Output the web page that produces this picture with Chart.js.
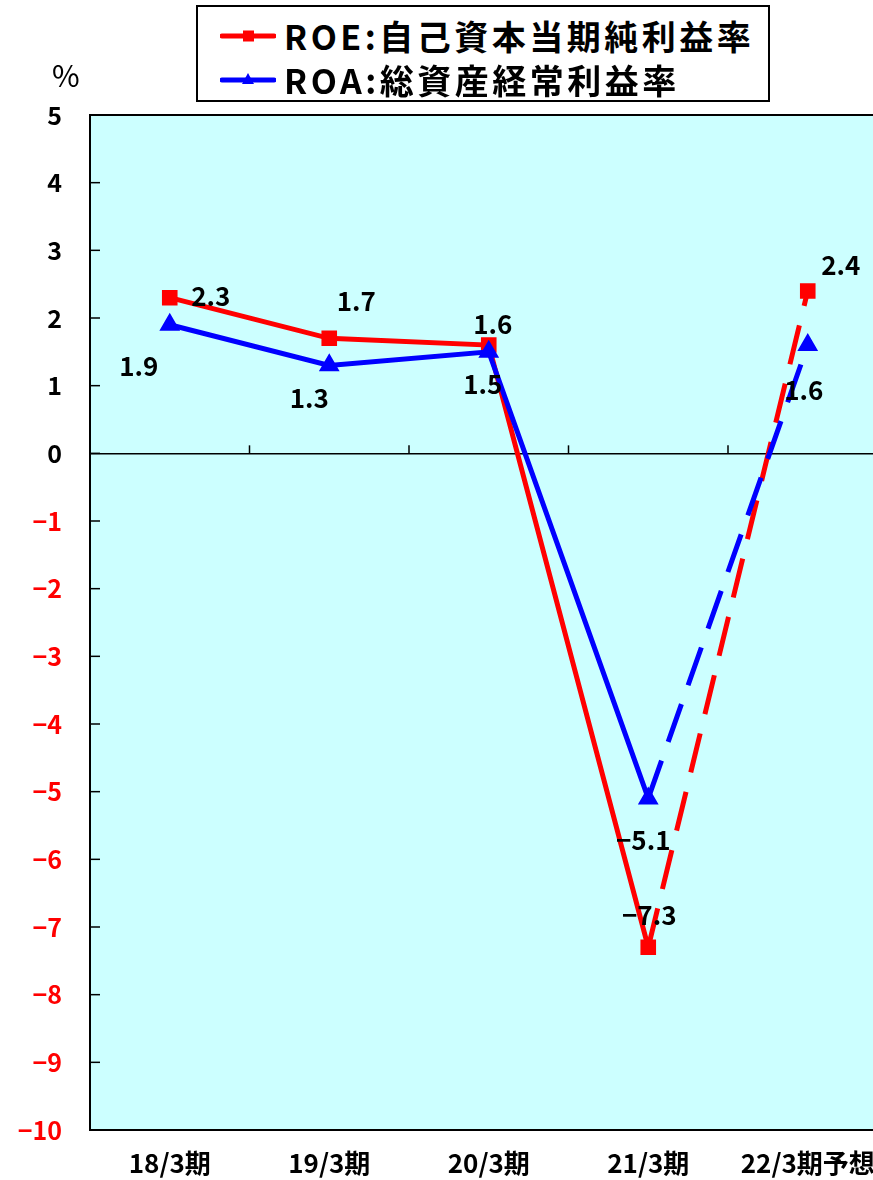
<!DOCTYPE html>
<html>
<head>
<meta charset="utf-8">
<script src="https://cdn.jsdelivr.net/npm/chart.js@4"></script>
<style>
  body { margin: 0; overflow: hidden; background: #fff; font-family: "Noto Sans CJK JP", sans-serif; }
  .wrap { position: relative; width: 900px; height: 1180px; }
  .unit { position: absolute; left: 52px; top: 52px; font-size: 30px; }
  .legend { position: absolute; left: 196px; top: 5px; width: 570px; height: 93px; border: 2px solid #000; background: #fff; }
  .legend .row { position: absolute; left: 22px; display: flex; align-items: center; font-size: 34px; font-weight: bold; letter-spacing: 3.5px; line-height: 1; }
  .legend svg { margin-right: 8px; }
</style>
</head>
<body>
<div class="wrap">
  <canvas id="chart" width="900" height="1180"></canvas>
  <div class="unit">%</div>
  <div class="legend">
    <div class="row" style="top:12px">
      <svg width="56" height="20"><line x1="2" y1="10" x2="54" y2="10" stroke="#ff0000" stroke-width="5" stroke-linecap="round"/><rect x="23" y="4.5" width="11" height="11" fill="#ff0000"/></svg>
      <span>ROE:自己資本当期純利益率</span>
    </div>
    <div class="row" style="top:56px">
      <svg width="56" height="20"><line x1="2" y1="10" x2="54" y2="10" stroke="#0000ff" stroke-width="5" stroke-linecap="round"/><polygon points="28,3 34,14 22,14" fill="#0000ff"/></svg>
      <span>ROA:総資産経常利益率</span>
    </div>
  </div>
</div>
<script>
const categories = ['18/3期', '19/3期', '20/3期', '21/3期', '22/3期予想'];
const roeValues = [2.3, 1.7, 1.6, -7.3, 2.4];
const roaValues = [1.9, 1.3, 1.5, -5.1, 1.6];
const yMin = -10;
const yMax = 5;

// where each value label sits relative to its point (px)
const roeLabelOffsets = [[41, -2], [27, -37], [4, -21], [1, -32], [33, -26]];
const roaLabelOffsets = [[-31, 41], [-20, 33], [-6, 32], [-5, 42], [-4, 45]];

const FONT = '"Noto Sans CJK JP", sans-serif';
const forecastDash = ctx => ctx.p0DataIndex === 3 ? [40, 20] : undefined;

function fmt(v) {
  return v < 0 ? '−' + Math.abs(v) : String(v);
}

const plotFrame = {
  id: 'plotFrame',
  beforeDraw(chart) {
    const { ctx, chartArea: a } = chart;
    ctx.save();
    ctx.fillStyle = '#ccffff';
    ctx.fillRect(a.left, a.top, a.right - a.left, a.bottom - a.top);
    ctx.restore();
  },
  beforeDatasetsDraw(chart) {
    const { ctx, chartArea: a, scales } = chart;
    const y = scales.y, x = scales.x;
    ctx.save();
    ctx.strokeStyle = '#000';
    ctx.lineWidth = 2;
    ctx.strokeRect(a.left, a.top, a.right - a.left, a.bottom - a.top);
    // inward ticks on the value axis
    ctx.lineWidth = 1.5;
    for (let v = yMin; v <= yMax; v++) {
      const py = y.getPixelForValue(v);
      ctx.beginPath();
      ctx.moveTo(a.left, py);
      ctx.lineTo(a.left + 10, py);
      ctx.stroke();
    }
    // category ticks on the zero line
    const y0 = y.getPixelForValue(0);
    for (let i = 0; i < categories.length - 1; i++) {
      const px = (x.getPixelForValue(i) + x.getPixelForValue(i + 1)) / 2;
      ctx.beginPath();
      ctx.moveTo(px, y0);
      ctx.lineTo(px, y0 - 8);
      ctx.stroke();
    }
    ctx.restore();
  },
  afterDatasetsDraw(chart) {
    const { ctx } = chart;
    const offsets = [roeLabelOffsets, roaLabelOffsets];
    ctx.save();
    ctx.fillStyle = '#000';
    ctx.font = 'bold 26px ' + FONT;
    ctx.textAlign = 'center';
    ctx.textBaseline = 'middle';
    chart.data.datasets.forEach((ds, di) => {
      const meta = chart.getDatasetMeta(di);
      meta.data.forEach((pt, i) => {
        const [dx, dy] = offsets[di][i];
        ctx.fillText(fmt(ds.data[i]), pt.x + dx, pt.y + dy);
      });
    });
    ctx.restore();
  }
};

new Chart(document.getElementById('chart'), {
  type: 'line',
  data: {
    labels: categories,
    datasets: [
      {
        label: 'ROE:自己資本当期純利益率',
        data: roeValues,
        borderColor: '#ff0000',
        backgroundColor: '#ff0000',
        borderWidth: 5,
        pointStyle: 'rect',
        pointRadius: 7.5,
        pointHoverRadius: 7.5,
        order: 1,
        segment: { borderDash: forecastDash }
      },
      {
        label: 'ROA:総資産経常利益率',
        data: roaValues,
        borderColor: '#0000ff',
        backgroundColor: '#0000ff',
        borderWidth: 5,
        pointStyle: 'triangle',
        pointRadius: 7,
        pointHoverRadius: 7,
        order: 0,
        segment: { borderDash: forecastDash }
      }
    ]
  },
  options: {
    responsive: false,
    animation: false,
    layout: { padding: { top: 115, right: 5, left: 0, bottom: 0 } },
    plugins: { legend: { display: false }, tooltip: { enabled: false } },
    scales: {
      x: {
        offset: true,
        grid: { display: false },
        border: { display: false },
        ticks: {
          color: '#000',
          font: { family: FONT, size: 26, weight: 'bold' },
          padding: 10,
          maxRotation: 0,
          autoSkip: false
        },
        afterFit(scale) { scale.height = 50; }
      },
      y: {
        min: yMin,
        max: yMax,
        grid: {
          drawTicks: false,
          color: ctx => ctx.tick && ctx.tick.value === 0 ? '#000' : 'rgba(0,0,0,0)',
          lineWidth: 1.5
        },
        border: { display: false },
        ticks: {
          stepSize: 1,
          padding: 28,
          color: ctx => ctx.tick.value < 0 ? '#ff0000' : '#000',
          font: { family: FONT, size: 25, weight: 'bold' },
          callback: v => fmt(v)
        },
        afterFit(scale) { scale.width = 90; }
      }
    }
  },
  plugins: [plotFrame]
});
</script>
</body>
</html>
